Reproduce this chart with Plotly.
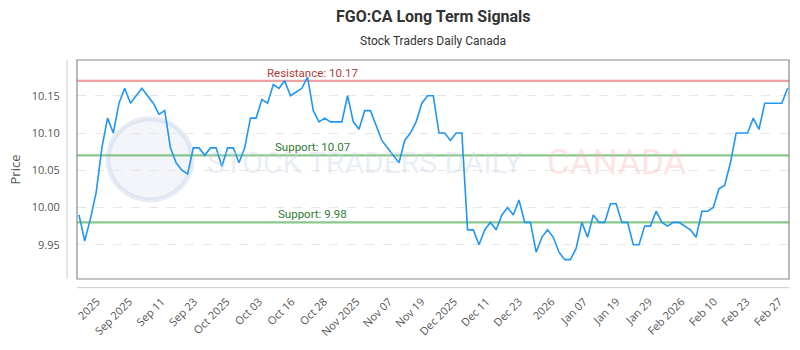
import numpy as np
import plotly.graph_objects as go

# ---- data ----
prices = [
    9.99, 9.955, 9.985, 10.02, 10.08, 10.12, 10.10, 10.14, 10.16, 10.14,
    10.15, 10.16, 10.15, 10.14, 10.125, 10.13, 10.08, 10.06, 10.05, 10.045,
    10.08, 10.08, 10.07, 10.08, 10.08, 10.055, 10.08, 10.08, 10.06, 10.08,
    10.12, 10.12, 10.145, 10.14, 10.165, 10.16, 10.17, 10.15, 10.155, 10.16,
    10.175, 10.13, 10.115, 10.12, 10.115, 10.115, 10.115, 10.15, 10.115, 10.105,
    10.13, 10.13, 10.11, 10.09, 10.08, 10.07, 10.06, 10.09, 10.10, 10.115,
    10.14, 10.15, 10.15, 10.10, 10.10, 10.09, 10.10, 10.10, 9.97, 9.97,
    9.95, 9.97, 9.98, 9.97, 9.99, 10.00, 9.99, 10.01, 9.98, 9.98,
    9.94, 9.96, 9.97, 9.96, 9.94, 9.93, 9.93, 9.945, 9.98, 9.96,
    9.99, 9.98, 9.98, 10.005, 10.005, 9.98, 9.98, 9.95, 9.95, 9.975,
    9.975, 9.995, 9.98, 9.975, 9.98, 9.98, 9.975, 9.97, 9.96, 9.995,
    9.995, 10.00, 10.025, 10.03, 10.06, 10.10, 10.10, 10.10, 10.12, 10.105,
    10.14, 10.14, 10.14, 10.14, 10.16,
]
tick_labels = [
    "2025", "Sep 2025", "Sep 11", "Sep 23", "Oct 2025", "Oct 03", "Oct 16",
    "Oct 28", "Nov 2025", "Nov 07", "Nov 19", "Dec 2025", "Dec 11", "Dec 23",
    "2026", "Jan 07", "Jan 19", "Jan 29", "Feb 2026", "Feb 10", "Feb 23", "Feb 27",
]
resistance = [10.17]
supports = [10.07, 9.98]
y_ticks = [9.95, 10.00, 10.05, 10.10, 10.15]

x = list(range(len(prices)))
tick_pos = list(np.linspace(3.1, 122.5, len(tick_labels)))

fig = go.Figure()
fig.add_trace(go.Scatter(
    x=x, y=prices, mode="lines",
    line=dict(color="#2196f3", width=1.6),
    hoverinfo="skip", showlegend=False,
))

# watermark (behind everything)
fig.add_shape(type="circle", xref="paper", yref="paper",
              x0=(108 - 77) / 712, x1=(192 - 77) / 712, y0=(287 - 205) / 227, y1=(287 - 121) / 227,
              line=dict(color="rgba(200,210,230,0.45)", width=5),
              fillcolor="rgba(215,222,238,0.3)", layer="below")
fig.add_annotation(x=(205 - 77) / 712, xref="paper", y=(287 - 166) / 227, yref="paper",
                   xanchor="left", yanchor="middle", showarrow=False,
                   text="STOCK TRADERS DAILY",
                   font=dict(family="Roboto, sans-serif", size=30, color="rgba(200,210,230,0.4)"))
fig.add_annotation(x=(545 - 77) / 712, xref="paper", y=(287 - 166) / 227, yref="paper",
                   xanchor="left", yanchor="middle", showarrow=False,
                   text="CANADA",
                   font=dict(family="Roboto, sans-serif", size=35, color="rgba(250,180,180,0.35)"))

# horizontal signal lines
for r in resistance:
    fig.add_hline(y=r, line=dict(color="rgba(232,110,110,0.65)", width=2.2), layer="below")
    fig.add_annotation(x=0.331, xref="paper", xanchor="center", y=r, yref="y", yanchor="bottom",
                       yshift=-1, text=f"Resistance: {r:.2f}", showarrow=False,
                       font=dict(family="Roboto, sans-serif", size=11.5, color="#b03a3a"))
for s in supports:
    fig.add_hline(y=s, line=dict(color="rgba(110,185,110,0.8)", width=2.2), layer="below")
    fig.add_annotation(x=0.331, xref="paper", xanchor="center", y=s, yref="y", yanchor="bottom",
                       yshift=-1, text=f"Support: {s:.2f}", showarrow=False,
                       font=dict(family="Roboto, sans-serif", size=11.5, color="#2e7d32"))

# plot border and offset axis lines
fig.add_shape(type="rect", xref="paper", yref="paper", x0=0, x1=1, y0=0, y1=1,
              line=dict(color="#8a8a8a", width=1.2))
fig.add_shape(type="line", xref="paper", yref="paper", x0=0, x1=1,
              y0=-9 / 227, y1=-9 / 227, line=dict(color="#cccccc", width=1))
fig.add_shape(type="line", xref="paper", yref="paper", x0=-10 / 712, x1=-10 / 712,
              y0=0, y1=1, line=dict(color="#cccccc", width=1))

# title and subtitle
fig.add_annotation(x=0.5, xref="paper", y=(287 - 15) / 227, yref="paper",
                   xanchor="center", yanchor="middle", showarrow=False,
                   text="<b>FGO:CA Long Term Signals</b>",
                   font=dict(family="Roboto, sans-serif", size=16, color="#333333"))
fig.add_annotation(x=0.5, xref="paper", y=(287 - 40) / 227, yref="paper",
                   xanchor="center", yanchor="middle", showarrow=False,
                   text="Stock Traders Daily Canada",
                   font=dict(family="Roboto, sans-serif", size=12, color="#333333"))

fig.update_layout(
    width=800, height=350,
    margin=dict(l=77, r=11, t=60, b=63),
    paper_bgcolor="white", plot_bgcolor="white",
    xaxis=dict(
        range=[-0.35, 124.25], tickmode="array", tickvals=tick_pos, ticktext=tick_labels,
        tickangle=-45, showgrid=False, zeroline=False, showline=False,
        ticks="outside", ticklen=11, tickcolor="rgba(0,0,0,0)",
        tickfont=dict(family="Open Sans, sans-serif", size=11, color="#555555"),
    ),
    yaxis=dict(
        range=[9.904, 10.198], tickmode="array", tickvals=y_ticks,
        ticktext=[f"{v:.2f}" for v in y_ticks],
        showgrid=True, gridcolor="#e6e6e6", griddash="dash", gridwidth=1,
        zeroline=False, showline=False,
        ticks="outside", ticklen=14, tickcolor="rgba(0,0,0,0)",
        tickfont=dict(family="Open Sans, sans-serif", size=11, color="#555555"),
        title=dict(text="Price", font=dict(family="Open Sans, sans-serif", size=13, color="#555555"),
                   standoff=8),
    ),
)

fig.write_html("out.html")
